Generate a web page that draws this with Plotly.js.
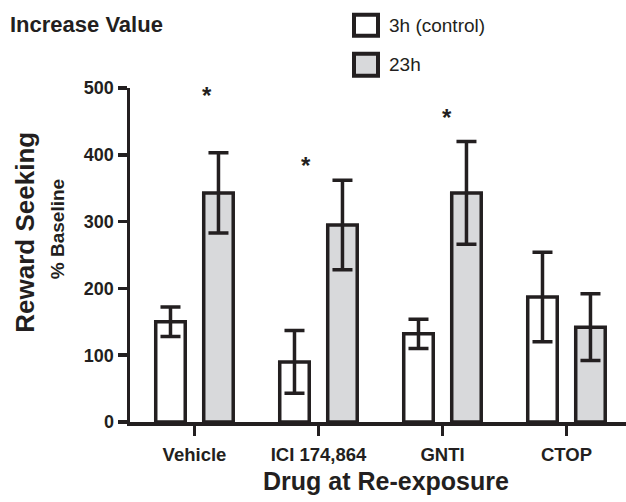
<!DOCTYPE html>
<html>
<head>
<meta charset="utf-8">
<script src="https://cdn.plot.ly/plotly-3.0.1.min.js"></script>
<style>html,body{margin:0;padding:0;background:#fff;}#chart{width:626px;height:502px;}</style>
</head>
<body>
<div id="chart"></div>
<script>
// ---- data ----
var drugs = ["Vehicle", "ICI 174,864", "GNTI", "CTOP"];
var seriesNames = ["3h (control)", "23h"];
var control3h = [150, 90, 132, 187];
var control3hErr = [22, 47, 22, 67];
var value23h = [343, 295, 343, 142];
var value23hErr = [60, 67, 77, 50];
var yTicks = [0, 100, 200, 300, 400, 500];
// significance asterisks: category position and height
var starX = [0.10, 0.90, 2.04];
var starY = [494, 388, 460];

var ink = "#231f20";
var grey = "#d8d9db";
var FONT = "Liberation Sans, Arial, Helvetica, sans-serif";

var traces = [
  {
    type: "bar", name: seriesNames[0], x: drugs, y: control3h,
    marker: {color: "#ffffff", line: {color: ink, width: 3.5}},
    error_y: {type: "data", array: control3hErr, visible: true, color: ink, thickness: 3.5, width: 10}
  },
  {
    type: "bar", name: seriesNames[1], x: drugs, y: value23h,
    marker: {color: grey, line: {color: ink, width: 3.5}},
    error_y: {type: "data", array: value23hErr, visible: true, color: ink, thickness: 3.5, width: 10}
  }
];

var plotL = 130, plotR = 626, plotT = 88.3, plotB = 422.3;
function px(x) { return (x - plotL) / (plotR - plotL); }
function py(y) { return (plotB - y) / (plotB - plotT); }

var annotations = [];
for (var i = 0; i < starX.length; i++) {
  annotations.push({
    x: starX[i], y: starY[i], xref: "x", yref: "y", text: "*", showarrow: false,
    xanchor: "center", yanchor: "middle", yshift: -3,
    font: {family: FONT, size: 24, color: ink, weight: "bold"}
  });
}
annotations.push({
  x: px(25), y: py(233), xref: "paper", yref: "paper", text: "Reward Seeking",
  textangle: -90, showarrow: false, xanchor: "center", yanchor: "middle",
  font: {family: FONT, size: 26, color: ink, weight: "bold"}
});
annotations.push({
  x: px(57.5), y: py(230), xref: "paper", yref: "paper", text: "% Baseline",
  textangle: -90, showarrow: false, xanchor: "center", yanchor: "middle",
  font: {family: FONT, size: 19, color: ink, weight: "bold"}
});
annotations.push({
  x: px(386), y: py(481), xref: "paper", yref: "paper", text: "Drug at Re-exposure",
  showarrow: false, xanchor: "center", yanchor: "middle",
  font: {family: FONT, size: 25, color: ink, weight: "bold"}
});
// legend labels
annotations.push({
  x: px(387), y: py(26), xref: "paper", yref: "paper", text: seriesNames[0],
  showarrow: false, xanchor: "left", yanchor: "middle",
  font: {family: FONT, size: 19, color: ink}
});
annotations.push({
  x: px(387), y: py(65), xref: "paper", yref: "paper", text: seriesNames[1],
  showarrow: false, xanchor: "left", yanchor: "middle",
  font: {family: FONT, size: 19, color: ink}
});

var shapes = [
  {type: "rect", xref: "paper", yref: "paper", x0: px(354), x1: px(378), y0: py(15), y1: py(36),
   fillcolor: "#ffffff", line: {color: ink, width: 4}},
  {type: "rect", xref: "paper", yref: "paper", x0: px(354), x1: px(378), y0: py(54), y1: py(76),
   fillcolor: grey, line: {color: ink, width: 4}}
];

var layout = {
  width: 626, height: 502,
  margin: {l: 130, r: 0, t: 88.3, b: 79.7, pad: 0},
  paper_bgcolor: "#ffffff", plot_bgcolor: "#ffffff",
  showlegend: false,
  barmode: "group", bargap: 0.226, bargroupgap: 0.385,
  title: {
    text: "Increase Value", x: 10 / 626, xanchor: "left", xref: "container",
    y: 1 - 24 / 502, yanchor: "middle", yref: "container",
    font: {family: FONT, size: 22, color: ink, weight: "bold"}
  },
  xaxis: {
    type: "category", range: [-0.52, 3.48], showgrid: false, zeroline: false,
    showline: true, linecolor: ink, linewidth: 3.5,
    ticks: "outside", ticklen: 10, tickwidth: 3.5, tickcolor: ink,
    ticklabelstandoff: 3,
    tickfont: {family: FONT, size: 18.5, color: ink, weight: "bold"},
    fixedrange: true
  },
  yaxis: {
    range: [0, 500], tickvals: yTicks, showgrid: false, zeroline: false,
    showline: true, linecolor: ink, linewidth: 3.5,
    ticks: "outside", ticklen: 9, tickwidth: 3.5, tickcolor: ink,
    tickfont: {family: FONT, size: 18, color: ink, weight: "bold"},
    fixedrange: true
  },
  annotations: annotations,
  shapes: shapes
};

Plotly.newPlot("chart", traces, layout, {displayModeBar: false, staticPlot: true});
</script>
</body>
</html>
